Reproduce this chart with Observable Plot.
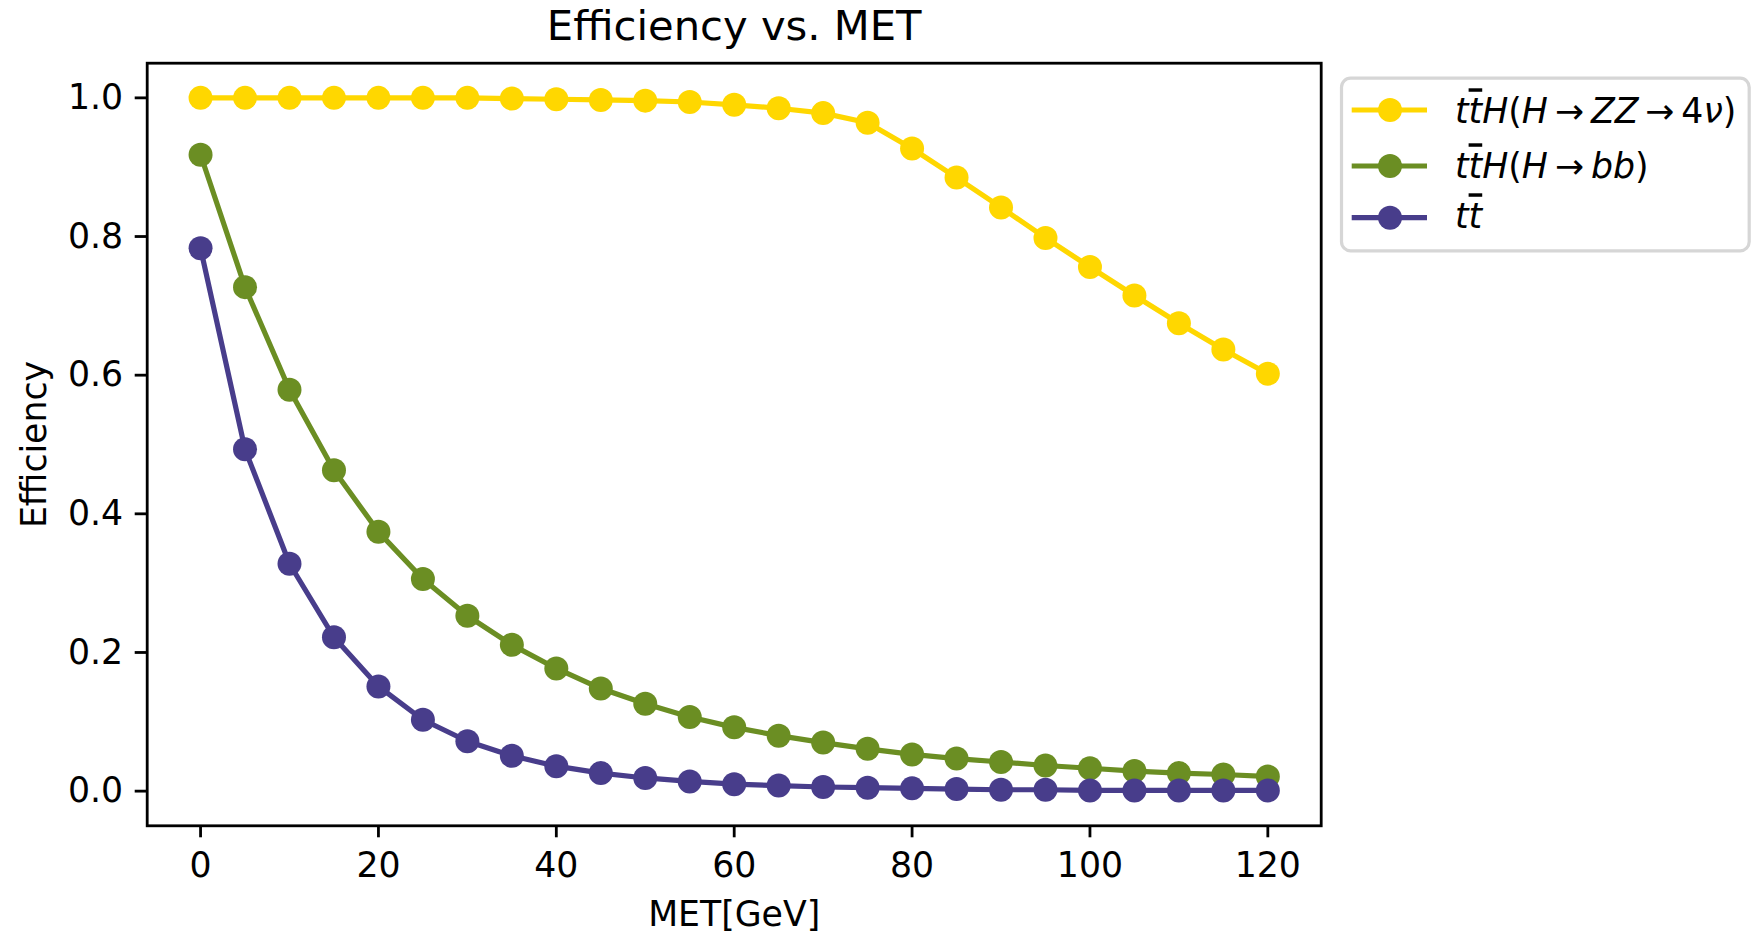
<!DOCTYPE html>
<html><head><meta charset="utf-8">
<script src="https://cdn.jsdelivr.net/npm/d3@7"></script>
<script src="https://cdn.jsdelivr.net/npm/@observablehq/plot@0.6"></script>
<style>
html,body{margin:0;padding:0;background:#fff;overflow:hidden}
#wrap{position:relative;width:1757px;height:931px;background:#fff}
#wrap svg{position:absolute;left:0;top:0}
</style></head><body><div id="wrap"></div>
<script>
// ---- data ----
const met = [0, 5, 10, 15, 20, 25, 30, 35, 40, 45, 50, 55, 60, 65, 70, 75, 80, 85, 90, 95, 100, 105, 110, 115, 120];
const effZZ = [1.000, 1.000, 1.000, 1.000, 1.000, 1.000, 1.000, 0.999, 0.998, 0.997, 0.996, 0.994, 0.990, 0.985, 0.978, 0.964, 0.927, 0.885, 0.842, 0.798, 0.756, 0.715, 0.675, 0.637, 0.602];
const effBB = [0.918, 0.727, 0.579, 0.463, 0.374, 0.306, 0.253, 0.211, 0.177, 0.148, 0.126, 0.107, 0.092, 0.080, 0.070, 0.061, 0.053, 0.047, 0.042, 0.037, 0.033, 0.029, 0.026, 0.024, 0.021];
const effTT = [0.783, 0.493, 0.328, 0.222, 0.151, 0.103, 0.072, 0.051, 0.036, 0.026, 0.019, 0.014, 0.010, 0.008, 0.006, 0.005, 0.004, 0.003, 0.002, 0.002, 0.001, 0.001, 0.001, 0.001, 0.001];
const seriesKeys = ["ttH_ZZ4nu", "ttH_bb", "tt"];
const seriesColors = ["#FFD700", "#6B8E23", "#483D8B"];
// legend labels: segments [text, italic, overline]
const legendZZ = [["t",1,0],["t",1,1],["H",1,0],["(",0,0],["H",1,0],["\u2009\u2192\u2009",0,0],["ZZ",1,0],["\u2009\u2192\u2009",0,0],["4",0,0],["\u03BD",1,0],[")",0,0]];
const legendBB = [["t",1,0],["t",1,1],["H",1,0],["(",0,0],["H",1,0],["\u2009\u2192\u2009",0,0],["bb",1,0],[")",0,0]];
const legendTT = [["t",1,0],["t",1,1]];
const xTicks = [0, 20, 40, 60, 80, 100, 120];
const yTicks = [0.0, 0.2, 0.4, 0.6, 0.8, 1.0];
const titleText = "Efficiency vs. MET";
const xLabel = "MET[GeV]";
const yLabel = "Efficiency";

const seriesValues = [effZZ, effBB, effTT];
const legendLabels = [legendZZ, legendBB, legendTT];
const rows = [];
seriesKeys.forEach((k, i) => met.forEach((m, j) => rows.push({series: k, met: m, eff: seriesValues[i][j]})));

const FONT = "DejaVu Sans";
const fs = 34.7;
const marks = [];
seriesKeys.forEach((k, i) => {
  const d = rows.filter(r => r.series === k);
  marks.push(Plot.line(d, {x: "met", y: "eff", stroke: seriesColors[i], strokeWidth: 5.2, strokeLinejoin: "round", strokeLinecap: "square"}));
  marks.push(Plot.dot(d, {x: "met", y: "eff", r: 12, fill: seriesColors[i], stroke: "none"}));
});
marks.push(Plot.frame({stroke: "black", strokeWidth: 2.8}));
marks.push(Plot.axisX(xTicks, {tickSize: 12, tickPadding: 14.8, strokeWidth: 2.8, fontSize: fs, label: null, tickFormat: d => String(d)}));
marks.push(Plot.axisY(yTicks, {tickSize: 12, tickPadding: 12, strokeWidth: 2.8, fontSize: fs, label: null, tickFormat: d3.format(".1f")}));
marks.push(Plot.text([titleText], {text: d => d, frameAnchor: "top", lineAnchor: "top", textAnchor: "middle", dy: -53, fontSize: 41.7, fill: "black"}));
marks.push(Plot.text([xLabel], {text: d => d, frameAnchor: "bottom", lineAnchor: "top", textAnchor: "middle", dy: 75.3, fontSize: fs, fill: "black"}));
marks.push(Plot.text([yLabel], {text: d => d, frameAnchor: "left", lineAnchor: "top", textAnchor: "middle", rotate: -90, dx: -126.3, fontSize: fs, fill: "black"}));

const chart = Plot.plot({
  width: 1757, height: 931,
  marginLeft: 146.7, marginRight: 436.3, marginTop: 62.7, marginBottom: 105.7,
  x: {domain: [-6, 126]},
  y: {domain: [-0.05, 1.05]},
  style: {fontFamily: FONT, fontSize: fs + "px", background: "white", color: "black", overflow: "visible"},
  marks
});
document.getElementById("wrap").appendChild(chart);

// ---- legend overlay ----
const lg = d3.select("#wrap").append("svg")
  .attr("width", 1757).attr("height", 931)
  .style("pointer-events", "none")
  .style("font-family", FONT).style("font-size", fs + "px");
lg.append("rect").attr("x", 1341.5).attr("y", 78.2).attr("width", 407.7).attr("height", 172.6)
  .attr("rx", 9).attr("fill", "white").attr("fill-opacity", 0.8)
  .attr("stroke", "#d6d6d6").attr("stroke-width", 3.2);
const rowY = [110, 166, 217.7];
const baseY = [123.3, 178.3, 228.3];
seriesKeys.forEach((k, i) => {
  const g = lg.append("g");
  g.append("line").attr("x1", 1351.7).attr("x2", 1427).attr("y1", rowY[i]).attr("y2", rowY[i])
    .attr("stroke", seriesColors[i]).attr("stroke-width", 5.2);
  g.append("circle").attr("cx", 1390).attr("cy", rowY[i]).attr("r", 12).attr("fill", seriesColors[i]);
  const t = g.append("text").attr("x", 1455).attr("y", baseY[i]).attr("fill", "black").style("white-space", "pre");
  legendLabels[i].forEach(([s, it, ov]) => {
    const ts = t.append("tspan").text(s);
    if (it) ts.attr("font-style", "italic");
    if (ov) ts.attr("text-decoration", "overline");
  });
});
</script></body></html>
